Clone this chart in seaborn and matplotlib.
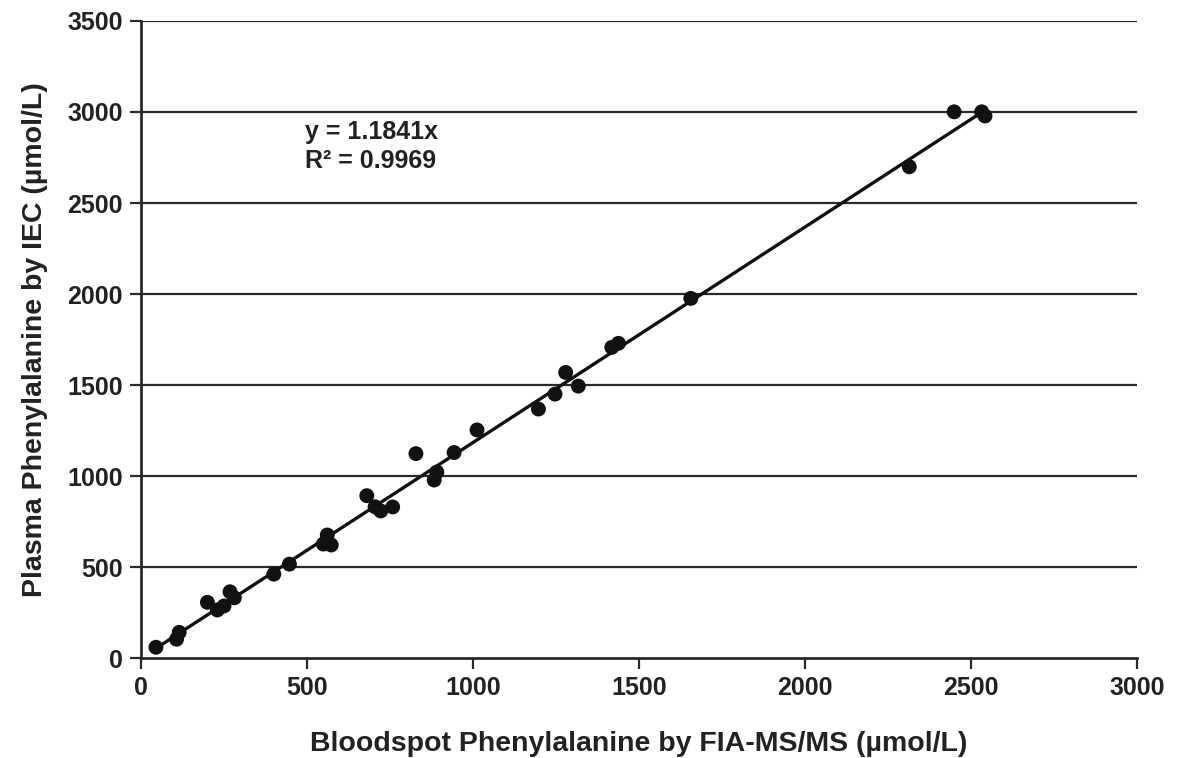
import numpy as np
import pandas as pd
import matplotlib
matplotlib.use('Agg')
import matplotlib.pyplot as plt
import seaborn as sns

# Bloodspot (FIA-MS/MS) vs plasma (IEC) phenylalanine, umol/L
bloodspot = [45, 107, 115, 200, 230, 250, 268, 281, 400, 447, 549, 561, 573,
             680, 705, 722, 758, 828, 883, 891, 943, 1012, 1197, 1247, 1279,
             1317, 1418, 1438, 1656, 2314, 2449, 2532, 2542]
plasma = [59, 103, 141, 306, 264, 286, 364, 331, 461, 516, 626, 676, 621,
          892, 831, 808, 830, 1123, 978, 1022, 1129, 1253, 1368, 1450, 1569,
          1494, 1707, 1729, 1976, 2699, 3001, 3001, 2978]
slope = 1.1841
r2 = 0.9969

df = pd.DataFrame({'bloodspot': bloodspot, 'plasma': plasma})

sns.set_style('ticks')
plt.rcParams['font.family'] = ['Liberation Sans', 'DejaVu Sans']
plt.rcParams['font.weight'] = 'bold'

fig = plt.figure(figsize=(11.81, 7.58), dpi=100)
ax = fig.add_axes([0.1194, 0.1319, 0.8434, 0.8404])

# lignes horizontales de la grille
for yv in range(500, 3501, 500):
    ax.axhline(yv, color='#2a2a2a', lw=1.6, zorder=1)

# droite de regression y = 1.1841x
xl = np.array([min(bloodspot) - 10, max(bloodspot)])
ax.plot(xl, slope * xl, color='#111111', lw=2.4, zorder=2)

sns.scatterplot(data=df, x='bloodspot', y='plasma', ax=ax, color='#111111',
                s=115, edgecolor='none', zorder=3)

ax.text(494, 2955, f'y = {slope}x\nR² = {r2}', fontsize=18, fontweight='bold',
        va='top', ha='left', linespacing=1.25, color='#222222')

ax.set_xlim(0, 3000)
ax.set_ylim(0, 3500)
ax.set_xticks(range(0, 3001, 500))
ax.set_yticks(range(0, 3501, 500))
ax.tick_params(axis='both', direction='out', length=8, width=1.6,
               labelsize=18, color='#2a2a2a', labelcolor='#222222', pad=5)
for lab in ax.get_xticklabels() + ax.get_yticklabels():
    lab.set_fontweight('bold')

ax.set_xlabel('Bloodspot Phenylalanine by FIA-MS/MS (µmol/L)', fontsize=20.5,
              fontweight='bold', labelpad=22, color='#222222')
ax.set_ylabel('Plasma Phenylalanine by IEC (µmol/L)', fontsize=20.5,
              fontweight='bold', labelpad=14, color='#222222')

sns.despine(ax=ax)
for sp in ['left', 'bottom']:
    ax.spines[sp].set_linewidth(2)
    ax.spines[sp].set_color('#2a2a2a')

fig.savefig('out.png', dpi=100)
